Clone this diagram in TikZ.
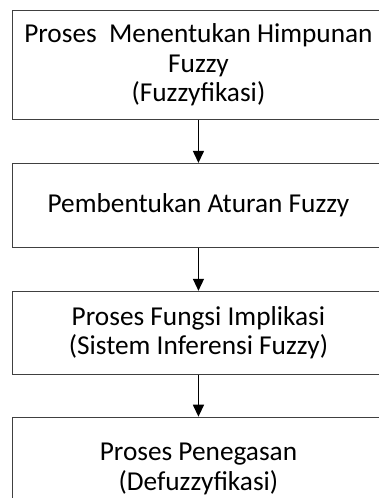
\documentclass[tikz,border=0pt]{standalone}
\usepackage{fontspec}
\setmainfont{Carlito}
\usepackage{tikz}
\usetikzlibrary{positioning,arrows.meta}

\tikzset{
  procbox/.style={draw=black!75,line width=0.9pt,minimum width=372pt,align=center,
    inner sep=2pt,font=\fontsize{27.3}{29.5}\selectfont},
  flowarrow/.style={draw=black,line width=1.4pt,-{Triangle[width=11pt,length=12pt]}}
}

\begin{document}
\begin{tikzpicture}[node distance=43pt]
  \useasboundingbox (0,0) rectangle (379pt,-498pt);
  \clip (0,0) rectangle (379pt,-498pt);
  \node[procbox,minimum height=109pt,anchor=north west] (fuzzifikasi) at (12pt,-10pt)
    {Proses\ \ Menentukan Himpunan\\Fuzzy\\(Fuzzyfikasi)};
  \node[procbox,minimum height=84pt,below=of fuzzifikasi] (aturan)
    {Pembentukan Aturan Fuzzy};
  \node[procbox,minimum height=83pt,below=of aturan] (implikasi)
    {Proses Fungsi Implikasi\\(Sistem Inferensi Fuzzy)};
  \node[procbox,minimum height=104pt,below=42pt of implikasi] (defuzzifikasi)
    {Proses Penegasan\\(Defuzzyfikasi)};

  \draw[flowarrow] (fuzzifikasi) -- (aturan);
  \draw[flowarrow] (aturan) -- (implikasi);
  \draw[flowarrow] (implikasi) -- (defuzzifikasi);
\end{tikzpicture}
\end{document}
